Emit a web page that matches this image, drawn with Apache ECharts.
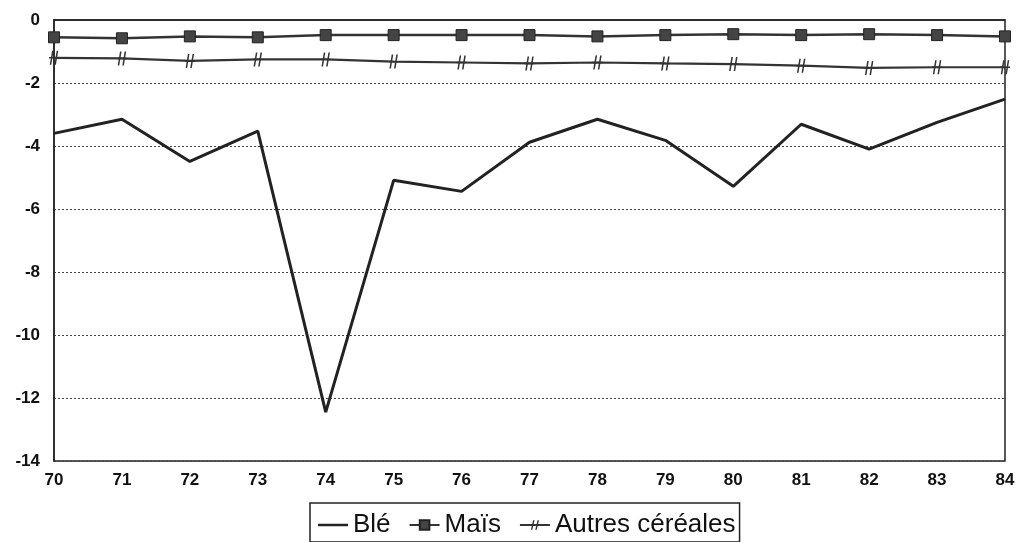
<!DOCTYPE html>
<html>
<head>
<meta charset="utf-8">
<script src="https://cdn.jsdelivr.net/npm/echarts@6/dist/echarts.min.js"></script>
<style>html,body{margin:0;padding:0;background:#fff;}#c{width:1021px;height:542px;}</style>
</head>
<body>
<div id="c"></div>
<script>
var years = ['70','71','72','73','74','75','76','77','78','79','80','81','82','83','84'];
var ble = [-3.6, -3.15, -4.49, -3.53, -12.45, -5.09, -5.44, -3.88, -3.15, -3.82, -5.28, -3.31, -4.1, -3.25, -2.51];
var mais = [-0.55, -0.58, -0.52, -0.55, -0.48, -0.48, -0.48, -0.48, -0.52, -0.48, -0.45, -0.48, -0.45, -0.48, -0.52];
var autres = [-1.2, -1.22, -1.3, -1.25, -1.25, -1.32, -1.35, -1.38, -1.35, -1.38, -1.4, -1.45, -1.52, -1.5, -1.5];
var seriesNames = ['Blé', 'Maïs', 'Autres céréales'];

var hashPath = 'path://M4,0 L6,0 L3,20 L1,20 Z M10,0 L12,0 L9,20 L7,20 Z M0,9 L13,9 L13,11 L0,11 Z';
var chart = echarts.init(document.getElementById('c'));
chart.setOption({
  animation: false,
  backgroundColor: '#fff',
  grid: { left: 54, right: 16, top: 20, bottom: 81, show: true, borderColor: '#222', borderWidth: 1.5, backgroundColor: 'transparent' },
  xAxis: {
    type: 'category', data: years, boundaryGap: false,
    axisLine: { lineStyle: { color: '#222', width: 1.5 } },
    axisTick: { show: false },
    axisLabel: { color: '#111', fontFamily: 'Liberation Sans', fontWeight: 'bold', fontSize: 17, margin: 11 },
    splitLine: { show: false }
  },
  yAxis: {
    type: 'value', min: -14, max: 0, interval: 2,
    axisLine: { show: true, lineStyle: { color: '#222', width: 1.5 } },
    axisTick: { show: false },
    axisLabel: { color: '#111', fontFamily: 'Liberation Sans', fontWeight: 'bold', fontSize: 17, margin: 14 },
    splitLine: { show: true, lineStyle: { color: '#444', width: 1, type: [2, 2] } }
  },
  legend: {
    data: [
      { name: seriesNames[0], icon: 'path://M0,0 L30,0 L30,2.5 L0,2.5 Z' },
      { name: seriesNames[1] },
      { name: seriesNames[2] }
    ],
    left: 310, top: 503,
    borderColor: '#222', borderWidth: 1.5, padding: [9, 4, 4, 8],
    itemGap: 18, itemWidth: 30, itemHeight: 12,
    textStyle: { fontFamily: 'Liberation Sans', fontSize: 26, color: '#111' }
  },
  series: [
    { name: seriesNames[0], type: 'line', data: ble, symbol: 'none', lineStyle: { color: '#222', width: 3 }, itemStyle: { color: '#222' } },
    { name: seriesNames[1], type: 'line', data: mais, symbol: 'rect', symbolSize: 11, lineStyle: { color: '#333', width: 2.5 }, itemStyle: { color: '#444', borderColor: '#222', borderWidth: 1 } },
    { name: seriesNames[2], type: 'line', data: autres, symbol: hashPath, symbolSize: [10, 14], lineStyle: { color: '#333', width: 2.2 }, itemStyle: { color: '#333' } }
  ]
});
</script>
</body>
</html>
